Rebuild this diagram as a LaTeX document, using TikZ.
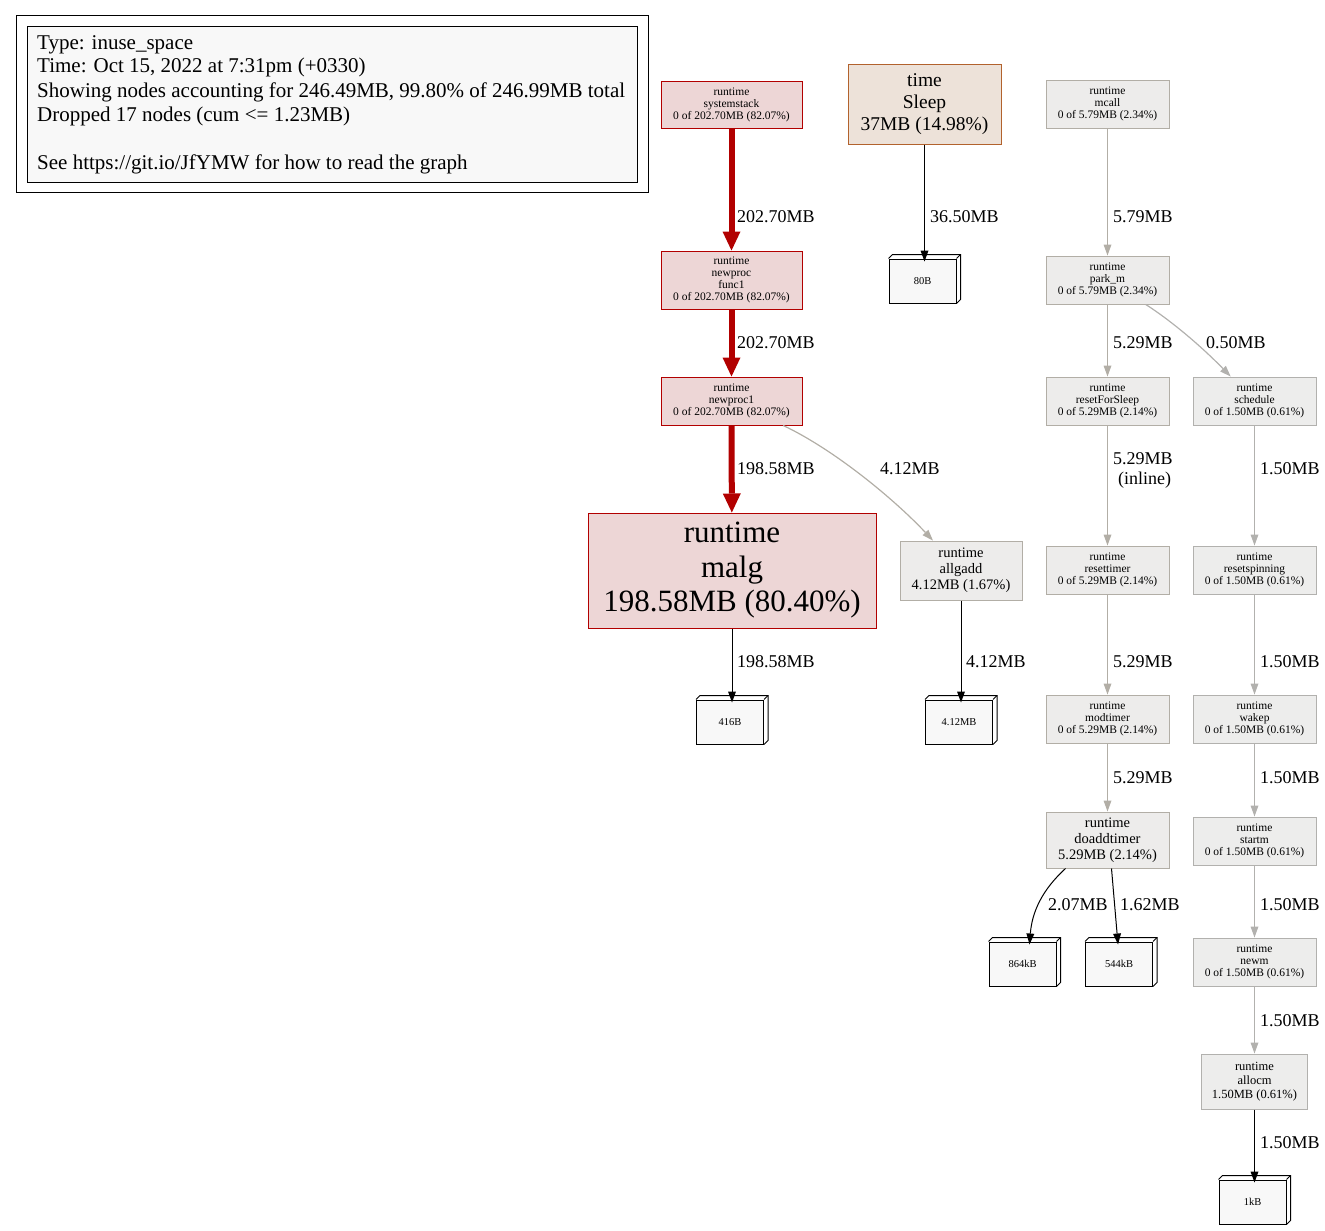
\documentclass[tikz,border=0pt]{standalone}
\usepackage{fontspec}
\setmainfont{Liberation Serif}
\usetikzlibrary{arrows.meta,calc}

\definecolor{hotfill}{HTML}{EDD6D6}
\definecolor{hotline}{HTML}{B20000}
\definecolor{warmfill}{HTML}{EDE2D9}
\definecolor{warmline}{HTML}{B2622D}
\definecolor{coolfill}{HTML}{EDECEB}
\definecolor{coolline}{HTML}{B2AEA6}
\definecolor{palefill}{HTML}{EDEDEC}
\definecolor{paleline}{HTML}{B2B1AE}
\definecolor{legendfill}{HTML}{F8F8F8}

\newcommand\fs[2]{\fontsize{#1}{#2}\selectfont}

\tikzset{
  fn/.style={draw, line width=1pt, inner sep=0pt, align=center, minimum width=#1},
  hot/.style={fill=hotfill, draw=hotline},
  warm/.style={fill=warmfill, draw=warmline},
  cool/.style={fill=coolfill, draw=coolline},
  pale/.style={fill=palefill, draw=paleline},
  tinytxt/.style={font=\fs{11.5}{12}},
  midtxt/.style={font=\fs{14.5}{16}},
  cube/.style={draw, line width=1pt, fill=legendfill, inner sep=0pt,
    minimum width=67pt, minimum height=44pt, font=\fs{10.5}{12}},
  cubeline/.style={line width=1pt},
  lbl/.style={inner sep=0pt, anchor=base west, font=\fs{18}{20}},
  hotedge/.style={draw=hotline, line width=6pt,
    -{Triangle[length=19pt,width=18pt,line width=0pt]}},
  blackedge/.style={draw=black, line width=1pt,
    -{Triangle[length=11pt,width=8pt,line width=0pt]}},
  cooledge/.style={draw=coolline, line width=1.2pt,
    -{Triangle[length=11pt,width=8pt,line width=0pt]}},
  paleedge/.style={draw=paleline, line width=1.2pt,
    -{Triangle[length=11pt,width=8pt,line width=0pt]}},
  legline/.style={inner sep=0pt, anchor=base west, font=\fs{21}{24}},
}

% a 3-D box node: front face plus top and side faces
\newcommand\cubenode[3]{%
  \node[cube] (#1) at (#2) {#3};
  \draw[cubeline] (#1.north west) -- ++(4,-4) -- ($(#1.north east)+(4,-4)$)
    -- ($(#1.south east)+(4,-4)$) -- (#1.south east);
  \draw[cubeline] (#1.north east) -- ++(4,-4);
}

\begin{document}
\begin{tikzpicture}[x=1pt, y=-1pt]
\useasboundingbox (0,0) rectangle (1325,1231);

% legend
\draw[line width=1pt] (16,16) rectangle (648,192);
\draw[line width=1pt, fill=legendfill] (27,27) rectangle (637,182);
\node[legline] (lg1) at (37,49) {Type: inuse\_space};
\node[legline] (lg2) at (37,73) {Time: Oct 15, 2022 at 7:31pm (+0330)};
\node[legline] (lg3) at (37,97) {Showing nodes accounting for 246.49MB, 99.80\% of 246.99MB total};
\node[legline] (lg4) at (37,121) {Dropped 17 nodes (cum <= 1.23MB)};
\node[legline] (lg5) at (37,169) {See https://git.io/JfYMW for how to read the graph};

% hot path
\node[fn=141pt, minimum height=47pt, hot, tinytxt] (sys) at (731.5,104.5)
  {runtime\\systemstack\\0 of 202.70MB (82.07\%)};
\node[fn=141pt, minimum height=58pt, hot, tinytxt] (f1) at (731.5,280)
  {runtime\\newproc\\func1\\0 of 202.70MB (82.07\%)};
\node[fn=141pt, minimum height=48pt, hot, tinytxt] (np1) at (731.5,401)
  {runtime\\newproc1\\0 of 202.70MB (82.07\%)};
\node[fn=288pt, minimum height=115pt, hot, font=\fs{31}{34.5}] (malg) at (732,570.5)
  {\rule{0pt}{3pt}runtime\\malg\\198.58MB (80.40\%)};
\node[fn=122pt, minimum height=59pt, cool, midtxt] (allg) at (961,570.5)
  {runtime\\allgadd\\4.12MB (1.67\%)};

% time.Sleep
\node[fn=153pt, minimum height=79pt, warm, font=\fs{19.5}{22}] (sleep) at (924.5,104.5)
  {time\\Sleep\\37MB (14.98\%)};

% scheduler chain
\node[fn=123pt, minimum height=48pt, cool, tinytxt] (mcall) at (1107.5,104)
  {runtime\\mcall\\0 of 5.79MB (2.34\%)};
\node[fn=123pt, minimum height=48pt, cool, tinytxt] (parkm) at (1107.5,280)
  {runtime\\park\_m\\0 of 5.79MB (2.34\%)};
\node[fn=123pt, minimum height=48pt, cool, tinytxt] (rfs) at (1107.5,401)
  {runtime\\resetForSleep\\0 of 5.29MB (2.14\%)};
\node[fn=123pt, minimum height=48pt, pale, tinytxt] (sched) at (1254.5,401)
  {runtime\\schedule\\0 of 1.50MB (0.61\%)};
\node[fn=123pt, minimum height=48pt, cool, tinytxt] (rtimer) at (1107.5,570)
  {runtime\\resettimer\\0 of 5.29MB (2.14\%)};
\node[fn=123pt, minimum height=48pt, pale, tinytxt] (rspin) at (1254.5,570)
  {runtime\\resetspinning\\0 of 1.50MB (0.61\%)};
\node[fn=123pt, minimum height=48pt, cool, tinytxt] (modt) at (1107.5,719)
  {runtime\\modtimer\\0 of 5.29MB (2.14\%)};
\node[fn=123pt, minimum height=48pt, pale, tinytxt] (wakep) at (1254.5,719)
  {runtime\\wakep\\0 of 1.50MB (0.61\%)};
\node[fn=123pt, minimum height=56pt, cool, midtxt] (dt) at (1107.5,840)
  {runtime\\doaddtimer\\5.29MB (2.14\%)};
\node[fn=123pt, minimum height=48pt, pale, tinytxt] (startm) at (1254.5,841)
  {runtime\\startm\\0 of 1.50MB (0.61\%)};
\node[fn=123pt, minimum height=48pt, pale, tinytxt] (newm) at (1254.5,962)
  {runtime\\newm\\0 of 1.50MB (0.61\%)};
\node[fn=106pt, minimum height=55pt, pale, font=\fs{12.5}{14}] (allocm) at (1254.5,1081.5)
  {runtime\\allocm\\1.50MB (0.61\%)};

% allocation size boxes
\cubenode{b80}{922.5,281}{80B}
\cubenode{b416}{730,722}{416B}
\cubenode{b412}{959,722}{4.12MB}
\cubenode{b864}{1022.5,964}{864kB}
\cubenode{b544}{1119,964}{544kB}
\cubenode{b1k}{1252.5,1202}{1kB}

% edges
\draw[hotedge] (sys) -- (f1);
\draw[hotedge] (f1) -- (np1);
\draw[hotedge] (np1) -- (malg);
\draw[cooledge] (np1) .. controls (835,450) and (895,500) .. (allg);
\draw[blackedge] (malg) -- ([yshift=-3pt]b416.north -| malg);
\draw[blackedge] (allg) -- ([yshift=-3pt]b412.north -| allg);
\draw[blackedge] (sleep) -- ([yshift=-3pt]b80.north -| sleep);
\draw[cooledge] (mcall) -- (parkm);
\draw[cooledge] (parkm) -- (rfs);
\draw[paleedge] (parkm) .. controls (1170,320) and (1200,345) .. (sched);
\draw[cooledge] (rfs) -- (rtimer);
\draw[cooledge] (rtimer) -- (modt);
\draw[cooledge] (modt) -- (dt);
\draw[blackedge] ([xshift=-42pt]dt.south) .. controls (1042,890) and (1032,912) .. ([xshift=7pt,yshift=-3pt]b864.north);
\draw[blackedge] ([xshift=4pt]dt.south) -- ([xshift=-1pt,yshift=-3pt]b544.north);
\draw[paleedge] (sched) -- (rspin);
\draw[paleedge] (rspin) -- (wakep);
\draw[paleedge] (wakep) -- (startm);
\draw[paleedge] (startm) -- (newm);
\draw[paleedge] (newm) -- (allocm);
\draw[blackedge] (allocm) -- ([yshift=-3pt]b1k.north -| allocm);

% edge labels
\node[lbl] (e1) at (737,222) {202.70MB};
\node[lbl] (e2) at (737,348) {202.70MB};
\node[lbl] (e3) at (737,474) {198.58MB};
\node[lbl] (e4) at (880,474) {4.12MB};
\node[lbl] (e5) at (737,667) {198.58MB};
\node[lbl] (e6) at (966,667) {4.12MB};
\node[lbl] (e7) at (930,222) {36.50MB};
\node[lbl] (e8) at (1113,222) {5.79MB};
\node[lbl] (e9) at (1113,348) {5.29MB};
\node[lbl] (e10) at (1206,348) {0.50MB};
\node[lbl] (e11) at (1113,464) {5.29MB};
\node[lbl] (e11b) at (1118,484) {(inline)};
\node[lbl] (e12) at (1260,474) {1.50MB};
\node[lbl] (e13) at (1113,667) {5.29MB};
\node[lbl] (e14) at (1260,667) {1.50MB};
\node[lbl] (e15) at (1113,783) {5.29MB};
\node[lbl] (e16) at (1260,783) {1.50MB};
\node[lbl] (e17) at (1048,910) {2.07MB};
\node[lbl] (e18) at (1120,910) {1.62MB};
\node[lbl] (e19) at (1260,910) {1.50MB};
\node[lbl] (e20) at (1260,1026) {1.50MB};
\node[lbl] (e21) at (1260,1148) {1.50MB};
\end{tikzpicture}
\end{document}
